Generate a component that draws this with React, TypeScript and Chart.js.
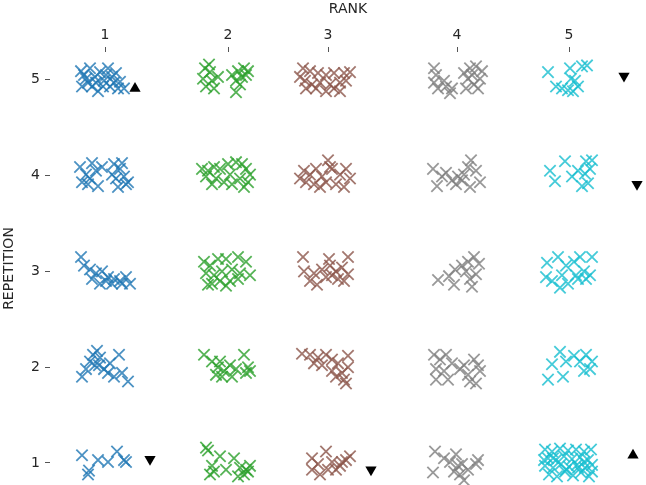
import { useEffect, useRef } from 'react';
import { Chart, registerables } from 'chart.js';

Chart.register(...registerables);

const RANK_LABELS = ['1', '2', '3', '4', '5'];
const RANK_POSITIONS = [105, 228, 328, 457, 569];
const REPETITIONS = [1, 2, 3, 4, 5];
const RANK_COLORS = [
  'rgba(31,119,180,0.8)',
  'rgba(44,160,44,0.8)',
  'rgba(140,86,75,0.8)',
  'rgba(127,127,127,0.8)',
  'rgba(23,190,207,0.8)',
];

const rank1Points: [number, number][] = [
  [81, 5.09], [86, 5.01], [82, 4.93], [90, 5.12], [95, 5.03], [92, 4.93], [100, 5.08], [104, 4.99], [98, 4.88], [108, 5.12], [112, 5.03], [110, 4.93], [116, 5.07], [120, 4.98], [124, 4.91], [88, 4.97], [103, 4.93], [114, 4.97], [84, 5.05], [96, 4.97], [118, 4.91], [106, 5.05],
  [80, 4.09], [86, 4.01], [82, 3.93], [92, 4.13], [96, 4.05], [90, 3.97], [98, 3.89], [102, 4.09], [88, 3.91], [114, 4.12], [120, 4.07], [116, 3.97], [124, 3.99], [128, 3.93], [118, 3.88], [126, 3.91], [112, 4.01], [122, 4.13],
  [81, 3.15], [84, 3.06], [90, 3.02], [96, 2.98], [102, 3.0], [108, 2.94], [114, 2.92], [120, 2.9], [126, 2.94], [130, 2.87], [92, 2.92], [100, 2.87], [112, 2.87], [122, 2.87], [106, 2.9],
  [82, 1.9], [86, 1.98], [90, 2.06], [93, 2.13], [97, 2.17], [100, 2.1], [95, 2.02], [104, 1.98], [110, 2.04], [119, 2.13], [108, 1.94], [114, 1.9], [122, 1.94], [128, 1.85], [99, 2.02],
  [82, 1.08], [98, 1.03], [108, 1.01], [117, 1.12], [124, 1.03], [126, 1.01], [88, 0.88], [89, 0.92],
];

const rank2Points: [number, number][] = [
  [205, 5.12], [210, 5.08], [203, 5.01], [212, 4.99], [206, 4.93], [214, 4.91], [218, 5.03], [232, 5.05], [238, 5.09], [244, 5.12], [248, 5.09], [236, 4.99], [240, 4.95], [236, 4.87], [242, 5.03], [246, 5.05], [209, 5.16],
  [202, 4.07], [208, 4.05], [214, 4.09], [220, 4.07], [206, 3.99], [216, 3.97], [224, 3.93], [230, 4.01], [236, 4.14], [242, 4.12], [246, 4.07], [240, 3.97], [248, 3.93], [232, 3.91], [244, 3.88], [228, 4.12], [212, 3.91], [250, 4.01],
  [204, 3.1], [210, 3.06], [218, 3.13], [226, 3.13], [238, 3.15], [246, 3.1], [206, 2.98], [214, 2.96], [222, 3.0], [232, 3.02], [240, 2.98], [250, 2.96], [212, 2.87], [220, 2.9], [230, 2.9], [238, 2.92], [208, 2.86], [226, 2.85],
  [204, 2.13], [212, 2.06], [218, 2.0], [224, 1.96], [230, 2.02], [222, 1.9], [216, 1.92], [232, 1.9], [244, 2.13], [248, 2.0], [250, 1.96], [236, 1.98], [246, 1.94], [220, 2.06],
  [206, 1.16], [208, 1.13], [220, 1.07], [234, 1.05], [212, 0.97], [214, 0.91], [226, 0.93], [240, 0.95], [244, 0.88], [248, 0.91], [238, 0.86], [250, 0.97], [210, 0.88], [246, 0.93],
];

const rank3Points: [number, number][] = [
  [303, 5.12], [310, 5.09], [318, 5.07], [326, 5.05], [334, 5.07], [344, 5.07], [350, 5.08], [305, 4.99], [312, 4.95], [320, 4.97], [330, 4.95], [340, 4.97], [306, 4.91], [316, 4.91], [326, 4.88], [334, 4.91], [340, 4.88], [300, 5.03], [346, 4.99],
  [304, 4.05], [310, 4.01], [316, 4.07], [322, 3.99], [328, 4.16], [332, 4.07], [340, 4.01], [346, 4.07], [350, 3.97], [306, 3.93], [314, 3.91], [326, 3.93], [336, 3.91], [344, 3.88], [320, 3.88], [300, 3.97], [330, 4.09],
  [303, 3.15], [329, 3.13], [348, 3.15], [304, 3.0], [314, 2.98], [322, 3.02], [330, 3.06], [336, 3.0], [342, 3.04], [326, 2.94], [338, 2.92], [344, 2.9], [317, 2.86], [310, 2.9], [332, 2.96], [348, 2.97],
  [302, 2.14], [310, 2.13], [318, 2.1], [326, 2.13], [332, 2.08], [338, 2.04], [314, 2.04], [322, 2.02], [348, 2.12], [348, 2.0], [342, 1.94], [336, 1.9], [344, 1.87], [346, 1.83], [332, 1.96],
  [312, 1.05], [318, 0.99], [326, 1.12], [332, 1.01], [340, 0.97], [346, 1.03], [350, 1.07], [312, 0.93], [320, 0.88], [328, 0.93], [336, 0.93], [342, 1.01],
];

const rank4Points: [number, number][] = [
  [434, 5.12], [436, 5.05], [434, 4.97], [438, 4.91], [446, 4.93], [450, 4.86], [444, 4.99], [452, 4.91], [464, 5.07], [470, 5.12], [476, 5.14], [482, 5.09], [468, 5.01], [474, 4.95], [466, 4.91], [478, 4.91], [480, 5.01], [472, 5.05],
  [433, 4.07], [446, 4.03], [452, 3.95], [458, 3.99], [464, 4.01], [468, 4.09], [471, 4.16], [476, 4.05], [480, 3.93], [470, 3.88], [437, 3.89], [456, 3.91], [442, 3.99], [462, 3.95],
  [438, 2.91], [449, 2.95], [455, 3.02], [462, 3.06], [468, 3.1], [474, 3.15], [479, 3.08], [476, 2.97], [472, 2.84], [454, 2.86], [466, 3.0], [470, 2.92],
  [434, 2.13], [440, 2.08], [446, 2.13], [452, 2.04], [436, 1.98], [444, 1.96], [436, 1.87], [448, 1.87], [460, 1.98], [468, 1.92], [474, 2.08], [478, 2.02], [480, 1.96], [470, 1.85], [476, 1.83], [464, 2.02],
  [435, 1.12], [444, 1.05], [450, 1.01], [456, 1.09], [462, 0.99], [468, 0.93], [454, 0.91], [460, 0.88], [478, 1.03], [476, 0.99], [433, 0.9], [464, 0.82], [458, 0.97],
];

const rank5Points: [number, number][] = [
  [548, 5.08], [570, 5.12], [582, 5.14], [587, 5.15], [556, 4.93], [562, 4.91], [575, 4.99], [573, 4.88], [578, 4.93], [571, 5.01], [568, 4.89],
  [550, 4.05], [565, 4.15], [555, 3.94], [572, 3.99], [586, 4.15], [592, 4.16], [585, 4.02], [588, 3.92], [582, 3.89], [590, 4.07], [578, 4.05],
  [547, 3.09], [558, 3.15], [580, 3.15], [592, 3.15], [566, 3.06], [574, 3.1], [546, 2.94], [552, 2.9], [562, 2.96], [568, 2.87], [578, 2.92], [584, 3.0], [590, 2.96], [560, 2.83], [576, 2.96], [586, 2.92],
  [548, 1.87], [560, 2.16], [552, 2.03], [563, 1.9], [574, 2.12], [586, 2.13], [592, 2.06], [590, 1.98], [584, 1.96], [566, 2.06], [580, 2.06],
  [545, 1.14], [552, 1.12], [560, 1.15], [568, 1.13], [576, 1.14], [584, 1.12], [591, 1.14], [548, 1.05], [556, 1.03], [564, 1.07], [572, 1.04], [580, 1.06], [588, 1.03], [545, 0.97], [553, 0.95], [561, 0.99], [569, 0.96], [577, 0.98], [585, 0.95], [592, 0.98], [549, 0.88], [557, 0.86], [565, 0.91], [573, 0.87], [581, 0.9], [589, 0.86], [544, 1.03], [584, 1.01], [566, 0.93], [592, 0.91], [553, 1.05], [578, 0.95],
];

const upMarkers: [number, number][] = [[135, 4.91], [633, 1.08]];
const downMarkers: [number, number][] = [[624, 5.04], [637, 3.91], [150, 1.04], [371, 0.93]];

const X_MIN = 50;
const X_MAX = 646;
const Y_MIN = 0.77;
const Y_MAX = 5.29;

const TEXT_COLOR = '#262626';
const FONT = 'DejaVu Sans';

export default function App() {
  const canvasRef = useRef<HTMLCanvasElement | null>(null);

  useEffect(() => {
    if (!canvasRef.current) return;
    const allRanks = [rank1Points, rank2Points, rank3Points, rank4Points, rank5Points];
    const toXY = (arr: [number, number][]) => arr.map(([x, y]) => ({ x, y }));
    const datasets: any[] = allRanks.map((pts, i) => ({
      label: 'Rank ' + RANK_LABELS[i],
      data: toXY(pts),
      pointStyle: 'crossRot',
      pointRadius: 8,
      borderWidth: 1.8,
      borderColor: RANK_COLORS[i],
      backgroundColor: RANK_COLORS[i],
      showLine: false,
    }));
    datasets.push({
      label: 'up',
      data: toXY(upMarkers),
      pointStyle: 'triangle',
      pointRadius: 6.5,
      borderWidth: 0,
      backgroundColor: '#000',
      borderColor: '#000',
      showLine: false,
    });
    datasets.push({
      label: 'down',
      data: toXY(downMarkers),
      pointStyle: 'triangle',
      rotation: 180,
      pointRadius: 6.5,
      borderWidth: 0,
      backgroundColor: '#000',
      borderColor: '#000',
      showLine: false,
    });

    const chart = new Chart(canvasRef.current, {
      type: 'scatter',
      data: { datasets },
      options: {
        responsive: false,
        maintainAspectRatio: false,
        animation: false,
        layout: { padding: 0, autoPadding: false },
        plugins: { legend: { display: false }, tooltip: { enabled: false } },
        scales: {
          x: {
            type: 'linear',
            position: 'top',
            min: X_MIN,
            max: X_MAX,
            afterBuildTicks: (s: any) => {
              s.ticks = RANK_POSITIONS.map((v) => ({ value: v }));
            },
            afterFit: (s: any) => {
              s.height = 52;
              s.paddingLeft = 0;
              s.paddingRight = 0;
            },
            ticks: {
              autoSkip: false,
              maxRotation: 0,
              padding: 3,
              color: TEXT_COLOR,
              font: { family: FONT, size: 14 },
              callback: (_v: any, i: number) => RANK_LABELS[i],
            },
            grid: { display: true, drawOnChartArea: false, drawTicks: true, tickLength: 5, color: '#555' },
            border: { display: false },
            title: {
              display: true,
              text: 'RANK',
              color: TEXT_COLOR,
              font: { family: FONT, size: 14 },
              padding: { top: 1, bottom: 0 },
            },
          },
          y: {
            type: 'linear',
            min: Y_MIN,
            max: Y_MAX,
            afterBuildTicks: (s: any) => {
              s.ticks = REPETITIONS.map((v) => ({ value: v }));
            },
            afterFit: (s: any) => {
              s.width = 50;
              s.paddingTop = 0;
              s.paddingBottom = 0;
            },
            ticks: {
              autoSkip: false,
              padding: 5,
              color: TEXT_COLOR,
              font: { family: FONT, size: 14 },
              callback: (v: any) => String(v),
            },
            grid: { display: true, drawOnChartArea: false, drawTicks: true, tickLength: 5, color: '#555' },
            border: { display: false },
            title: {
              display: true,
              text: 'REPETITION',
              color: TEXT_COLOR,
              font: { family: FONT, size: 14 },
              padding: { top: 1, bottom: 0 },
            },
          },
        },
      },
    });
    return () => chart.destroy();
  }, []);

  return (
    <div style={{ position: 'absolute', left: 0, top: 0, width: 646, height: 485 }}>
      <canvas ref={canvasRef} width={646} height={485} style={{ display: 'block' }} />
    </div>
  );
}
